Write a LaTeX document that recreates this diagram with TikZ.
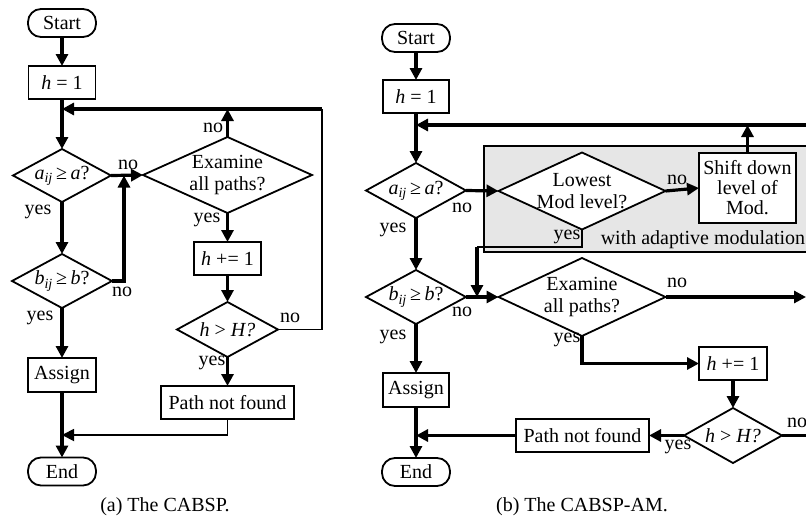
\documentclass[tikz,border=0pt]{standalone}
\usepackage{fontspec}
\setmainfont{Liberation Serif}
\usetikzlibrary{arrows.meta,shapes.geometric}
\definecolor{amgray}{RGB}{230,230,230}
\begin{document}
\begin{tikzpicture}[x=1pt,y=-1pt,
  font=\fontsize{20}{22}\selectfont,
  box/.style={draw, line width=1.8pt, inner sep=0pt, outer sep=0pt, align=center, fill=white},
  proc/.style={box, rectangle},
  term/.style={box, rectangle, rounded corners=13pt, minimum width=68pt, minimum height=28pt},
  dia/.style={box, diamond},
  lbl/.style={inner sep=0pt},
  thk/.style={line width=3.2pt},
  thn/.style={line width=1.8pt},
  arr/.style={-{Triangle[length=12pt,width=12pt]}},
]
\useasboundingbox (0,0) rectangle (806,517);

% ================= (a) =================
\node[term] (sa) at (62,23) {Start};
\node[proc, minimum width=67pt, minimum height=33pt] (h1a) at (62,82.5) {\textit{h} = 1};
\node[dia, minimum width=98pt, minimum height=53pt,
  label={center:{\textit{a}\textsubscript{\textit{ij}}\,≥\,\textit{a}?}}] (aa) at (62,175.5) {};
\node[dia, minimum width=100pt, minimum height=54pt,
  label={center:{\textit{b}\textsubscript{\textit{ij}}\,≥\,\textit{b}?}}] (ba) at (62,281) {};
\node[proc, minimum width=68pt, minimum height=34pt] (asa) at (62,375) {Assign};
\node[term] (ea) at (62,471.5) {End};
\node[dia, minimum width=169pt, minimum height=76pt,
  label={[align=center]center:{Examine\\all paths?}}] (exa) at (227.5,175) {};
\node[proc, minimum width=67pt, minimum height=33pt] (inca) at (227.5,258.5) {\textit{h} += 1};
\node[dia, minimum width=101pt, minimum height=55pt,
  label={center:{\textit{h} {\textgreater} \textit{H?}}}] (hHa) at (227.5,329.5) {};
\node[proc, minimum width=133pt, minimum height=33pt] (pnfa) at (227.5,402.5) {Path not found};

\coordinate (ra) at (322,109);
\coordinate (ja) at (124,175.5);
\coordinate (ma) at (62,435);

\draw[thk,arr] (sa) -- (h1a);
\draw[thk,arr] (h1a) -- (aa);
\draw[thn] (hHa.east) -| (ra);
\draw[thk,arr] (ra) -- (h1a.south |- ra);
\draw[thk,arr] (exa.north) -- (exa.north |- ra);
\draw[thk,arr] (aa.east) -- (exa.west);
\draw[thk,arr] (ba.east) -| (ja);
\draw[thk,arr] (aa) -- (ba);
\draw[thk,arr] (ba) -- (asa);
\draw[thk,arr] (asa) -- (ea);
\draw[thk,arr] (exa.south) -- (inca);
\draw[thk,arr] (inca) -- (hHa.north);
\draw[thk,arr] (hHa.south) -- (pnfa);
\draw[thn,arr] (pnfa.south) |- (ma);

\node[lbl] (la1) at (128,165) {no};
\node[lbl] (la2) at (38,212) {yes};
\node[lbl] (la3) at (213,128) {no};
\node[lbl] (la4) at (207,220) {yes};
\node[lbl] (la5) at (122,292) {no};
\node[lbl] (la6) at (40,318) {yes};
\node[lbl] (la7) at (290,318) {no};
\node[lbl] (la8) at (212,363) {yes};
\node[lbl] (capa) at (165,507) {(a) The CABSP.};

% ================= (b) =================
\node[draw, line width=1.5pt, fill=amgray, minimum width=346pt, minimum height=106pt, inner sep=0pt] (amb) at (657,199) {};
\node[lbl] (amt) at (703,240) {with adaptive modulation};

\node[term] (sb) at (416,38) {Start};
\node[proc, minimum width=66pt, minimum height=33pt] (h1b) at (416,96.5) {\textit{h} = 1};
\node[dia, minimum width=100pt, minimum height=55pt,
  label={center:{\textit{a}\textsubscript{\textit{ij}}\,≥\,\textit{a}?}}] (ab) at (416,190.5) {};
\node[dia, minimum width=100pt, minimum height=54pt,
  label={center:{\textit{b}\textsubscript{\textit{ij}}\,≥\,\textit{b}?}}] (bb) at (416,297) {};
\node[proc, minimum width=66pt, minimum height=34pt] (asb) at (416,390) {Assign};
\node[term] (eb) at (416,472) {End};
\node[dia, minimum width=167pt, minimum height=77pt,
  label={[align=center]center:{Lowest\\Mod level?}}] (lm) at (582,191) {};
\node[proc, minimum width=97pt, minimum height=70pt, font=\fontsize{20}{20}\selectfont] (sd) at (747.5,188) {Shift down\\level of\\Mod.};
\node[dia, minimum width=167pt, minimum height=78pt,
  label={[align=center]center:{Examine\\all paths?}}] (exb) at (582,297) {};
\node[proc, minimum width=68pt, minimum height=33pt] (incb) at (733,363.5) {\textit{h} += 1};
\node[dia, minimum width=98pt, minimum height=55pt,
  label={center:{\textit{h} {\textgreater} \textit{H?}}}] (hHb) at (733,435.5) {};
\node[proc, minimum width=133pt, minimum height=33pt] (pnfb) at (582.5,435.5) {Path not found};

\coordinate (rb) at (812,125);
\coordinate (kb) at (477,247);
\coordinate (jb) at (477,297);
\coordinate (eo) at (806,297);
\coordinate (ho) at (812,435.5);
\coordinate (mb) at (416,435.5);

\draw[thk,arr] (sb) -- (h1b);
\draw[thk,arr] (h1b) -- (ab);
\draw[thk,arr] (rb) -- (h1b.south |- rb);
\draw[thk,arr] (sd.north) -- (sd.north |- rb);
\draw[thk,arr] (ab.east) -- (lm.west);
\draw[thk,arr] (lm.east) -- (sd.west);
\draw[thn] (lm.south) |- (kb);
\draw[thk,arr] (kb) -- (jb);
\draw[thk,arr] (ab) -- (bb);
\draw[thk,arr] (bb) -- (asb);
\draw[thk,arr] (asb) -- (eb);
\draw[thk,arr] (bb.east) -- (exb.west);
\draw[thk,arr] (exb.east) -- (eo);
\draw[thk,arr] (exb.south) |- (incb.west);
\draw[thk,arr] (incb) -- (hHb.north);
\draw[thk,arr] (hHb.west) -- (pnfb.east);
\draw[thk,arr] (pnfb.west) -- (mb);
\draw[thk] (hHb.east) -- (ho);

\node[lbl] (lb1) at (462,208) {no};
\node[lbl] (lb2) at (393,230) {yes};
\node[lbl] (lb3) at (677,180) {no};
\node[lbl] (lb4) at (567,237) {yes};
\node[lbl] (lb5) at (462,312) {no};
\node[lbl] (lb6) at (393,337) {yes};
\node[lbl] (lb7) at (677,283) {no};
\node[lbl] (lb8) at (567,340) {yes};
\node[lbl] (lb9) at (797,423) {no};
\node[lbl] (lb10) at (678,447) {yes};
\node[lbl] (capb) at (582,507) {(b) The CABSP-AM.};
\end{tikzpicture}
\end{document}
